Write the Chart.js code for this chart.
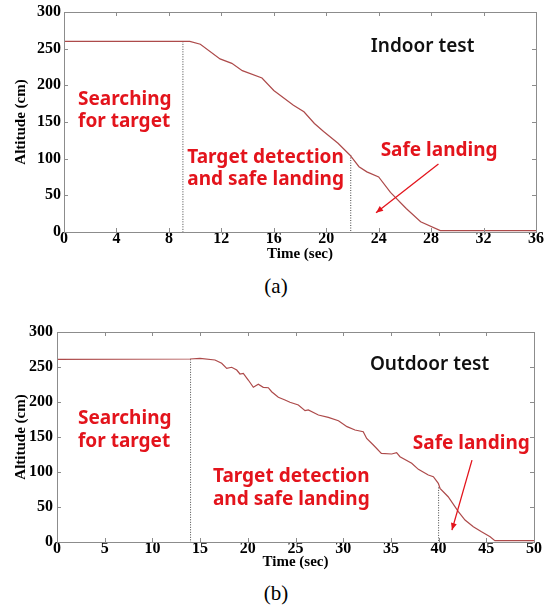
<!DOCTYPE html>
<html><head><meta charset="utf-8">
<script src="https://cdn.jsdelivr.net/npm/chart.js@4"></script>
<style>
body{margin:0;background:#fff;width:552px;height:607px;position:relative;overflow:hidden}
.c{position:absolute;left:0}
.cap{position:absolute;left:0;width:552px;text-align:center;font:21px "Liberation Serif";line-height:24px;color:#000}
</style></head><body>
<div class="c" style="top:0px"><canvas id="ca" width="552" height="265"></canvas></div>
<div class="c" style="top:320px"><canvas id="cb" width="552" height="255"></canvas></div>
<div class="cap" style="top:274px">(a)</div>
<div class="cap" style="top:581px">(b)</div>
<script>
// ---- Data (a) Indoor test ----
const timeA = [0, 9.6, 10.4, 11.9, 12.8, 13.6, 15.1, 16.0, 17.5, 18.3, 19.1, 19.8, 20.9, 21.8, 22.5, 23.1, 24.0, 24.9, 26.1, 27.2, 28.7, 36];
const altA  = [260, 260, 256, 236, 230, 220, 210, 193, 173, 164, 148, 137, 121, 105, 89, 82, 75, 54, 32, 14, 2, 2];
const markTimesA = [9.07, 21.87];
const markTopsA  = [260, 105];
const xTicksA = [0, 4, 8, 12, 16, 20, 24, 28, 32, 36];

// ---- Data (b) Outdoor test ----
const timeB = [0, 13.94, 14.99, 16.56, 17.26, 17.79, 18.31, 18.84, 19.18, 19.53, 20.05, 20.58, 21.1, 21.62, 22.15, 22.5, 23.2, 23.9, 24.42, 25.3, 26.0, 26.34, 27.4, 28.44, 29.5, 30.4, 31.24, 32.1, 32.46, 33.16, 34.0, 35.08, 35.6, 35.95, 37.18, 37.88, 38.92, 39.45, 39.97, 40.15, 41.0, 42.07, 42.77, 43.64, 44.5, 45.4, 45.9, 50];
const altB  = [261, 261.4, 262.4, 260, 255.3, 248, 249.6, 245.7, 240, 241, 231.4, 221, 225.3, 221, 220.4, 214.7, 206.7, 202.9, 199.6, 195.7, 187.6, 188.6, 181.4, 178, 173.3, 164.8, 160, 157.6, 148, 138.6, 126.7, 125.7, 127.6, 121.9, 112.4, 103.8, 95.7, 93.3, 83.8, 76.7, 64.7, 43.3, 31.4, 21.9, 14.7, 7.6, 1.9, 1.9];
const markTimesB = [14.0, 40.0];
const markTopsB  = [261, 78];
const xTicksB = [0, 5, 10, 15, 20, 25, 30, 35, 40, 45, 50];

const yTicks = [0, 50, 100, 150, 200, 250, 300];
const xTitle = 'Time (sec)';
const yTitle = 'Altitude (cm)';

// annotation layout (data coordinates)
const notesA = {
  title: {text: 'Indoor test', t: 23.4, a: 253},
  texts: [
    {lines: ['Searching', 'for target'], t: 1.07, a: 180, da: 30},
    {lines: ['Target detection', 'and safe landing'], t: 9.4, a: 102, da: 31},
    {lines: ['Safe landing'], t: 24.15, a: 110.5, da: 0}
  ],
  arrow: {t1: 28.56, a1: 92.7, t2: 23.8, a2: 26.3}
};
const notesB = {
  title: {text: 'Outdoor test', t: 32.8, a: 253},
  texts: [
    {lines: ['Searching', 'for target'], t: 2.2, a: 177, da: 34},
    {lines: ['Target detection', 'and safe landing'], t: 16.35, a: 93, da: 33},
    {lines: ['Safe landing'], t: 37.3, a: 140, da: 0}
  ],
  arrow: {t1: 43.5, a1: 117, t2: 41.4, a2: 17}
};

const RED = '#e3141c';
const LINE = '#ad4a4a';
const FRAME = '#8c8c8c';

function framePlugin(notes) {
  return {
    id: 'frame',
    afterDatasetsDraw(chart) {
      const {ctx, chartArea: ca} = chart;
      const xs = chart.scales.x, ys = chart.scales.y;
      ctx.save();
      ctx.strokeStyle = FRAME; ctx.lineWidth = 1;
      ctx.strokeRect(Math.round(ca.left) + 0.5, Math.round(ca.top) + 0.5, Math.round(ca.right - ca.left), Math.round(ca.bottom - ca.top));
      const tl = 4;
      ctx.beginPath();
      xs.ticks.forEach(tk => {
        const px = Math.round(xs.getPixelForValue(tk.value)) + 0.5;
        ctx.moveTo(px, ca.top); ctx.lineTo(px, ca.top + tl);
        ctx.moveTo(px, ca.bottom); ctx.lineTo(px, ca.bottom - tl);
      });
      ys.ticks.forEach(tk => {
        const py = Math.round(ys.getPixelForValue(tk.value)) + 0.5;
        ctx.moveTo(ca.left, py); ctx.lineTo(ca.left + tl, py);
        ctx.moveTo(ca.right, py); ctx.lineTo(ca.right - tl, py);
      });
      ctx.stroke();
      // title text
      ctx.textBaseline = 'middle'; ctx.textAlign = 'left';
      ctx.fillStyle = '#111';
      ctx.font = '600 19px "Noto Sans"';
      ctx.fillText(notes.title.text, xs.getPixelForValue(notes.title.t), ys.getPixelForValue(notes.title.a));
      ctx.fillStyle = RED;
      ctx.font = 'bold 19px "Noto Sans"';
      notes.texts.forEach(n => {
        n.lines.forEach((ln, i) => {
          ctx.fillText(ln, xs.getPixelForValue(n.t), ys.getPixelForValue(n.a - i * n.da));
        });
      });
      // arrow
      const ar = notes.arrow;
      const x1 = xs.getPixelForValue(ar.t1), y1 = ys.getPixelForValue(ar.a1);
      const x2 = xs.getPixelForValue(ar.t2), y2 = ys.getPixelForValue(ar.a2);
      ctx.strokeStyle = RED; ctx.lineWidth = 1.3;
      ctx.beginPath(); ctx.moveTo(x1, y1); ctx.lineTo(x2, y2); ctx.stroke();
      const ang = Math.atan2(y2 - y1, x2 - x1);
      const L = 7, W = 3;
      ctx.beginPath();
      ctx.moveTo(x2, y2);
      ctx.lineTo(x2 - L * Math.cos(ang) + W * Math.sin(ang), y2 - L * Math.sin(ang) - W * Math.cos(ang));
      ctx.lineTo(x2 - L * Math.cos(ang) - W * Math.sin(ang), y2 - L * Math.sin(ang) + W * Math.cos(ang));
      ctx.closePath(); ctx.fill();
      ctx.restore();
    }
  };
}

function makeChart(id, times, alts, markT, markTop, xTicks, notes, geo) {
  const datasets = [{
    data: times.map((t, i) => ({x: t, y: alts[i]})),
    borderColor: LINE, borderWidth: 1.2, pointRadius: 0, tension: 0, fill: false
  }];
  markT.forEach((t, i) => {
    datasets.push({
      data: [{x: t, y: markTop[i]}, {x: t, y: 0}],
      borderColor: '#444', borderWidth: 1, borderDash: [1, 1.5], pointRadius: 0, fill: false
    });
  });
  const tickFont = {family: '"Liberation Serif"', weight: 'bold', size: 16, lineHeight: 1};
  const titleFont = {family: '"Liberation Serif"', weight: 'bold', size: 15};
  return new Chart(document.getElementById(id), {
    type: 'line',
    data: {datasets},
    options: {
      responsive: false, animation: false,
      layout: {padding: {top: geo.top, right: geo.right, left: 0, bottom: 0}},
      plugins: {legend: {display: false}, tooltip: {enabled: false}},
      scales: {
        x: {
          type: 'linear', min: xTicks[0], max: xTicks[xTicks.length - 1],
          afterBuildTicks: s => { s.ticks = xTicks.map(v => ({value: v})); },
          afterFit: s => { s.height = geo.xh; },
          grid: {display: false, drawTicks: false}, border: {display: false},
          ticks: {font: tickFont, color: '#000', padding: geo.xpad, maxRotation: 0, autoSkip: false},
          title: {display: true, text: xTitle, font: titleFont, color: '#000', padding: {top: 0, bottom: geo.xtp}}
        },
        y: {
          type: 'linear', min: 0, max: 300,
          afterBuildTicks: s => { s.ticks = yTicks.map(v => ({value: v})); },
          afterFit: s => { s.width = geo.yw; },
          grid: {display: false, drawTicks: false}, border: {display: false},
          ticks: {font: tickFont, color: '#000', padding: geo.ypad},
          title: {display: true, text: yTitle, font: titleFont, color: '#000', padding: {top: 12, bottom: 0}}
        }
      }
    },
    plugins: [framePlugin(notes)]
  });
}

makeChart('ca', timeA, altA, markTimesA, markTopsA, xTicksA, notesA,
  {top: 12, right: 16, xh: 33, yw: 64, xpad: -1, ypad: 3, xtp: 2});
makeChart('cb', timeB, altB, markTimesB, markTopsB, xTicksB, notesB,
  {top: 12, right: 18, xh: 33, yw: 57, xpad: -1, ypad: 4, xtp: 3.5});
</script>
</body></html>
